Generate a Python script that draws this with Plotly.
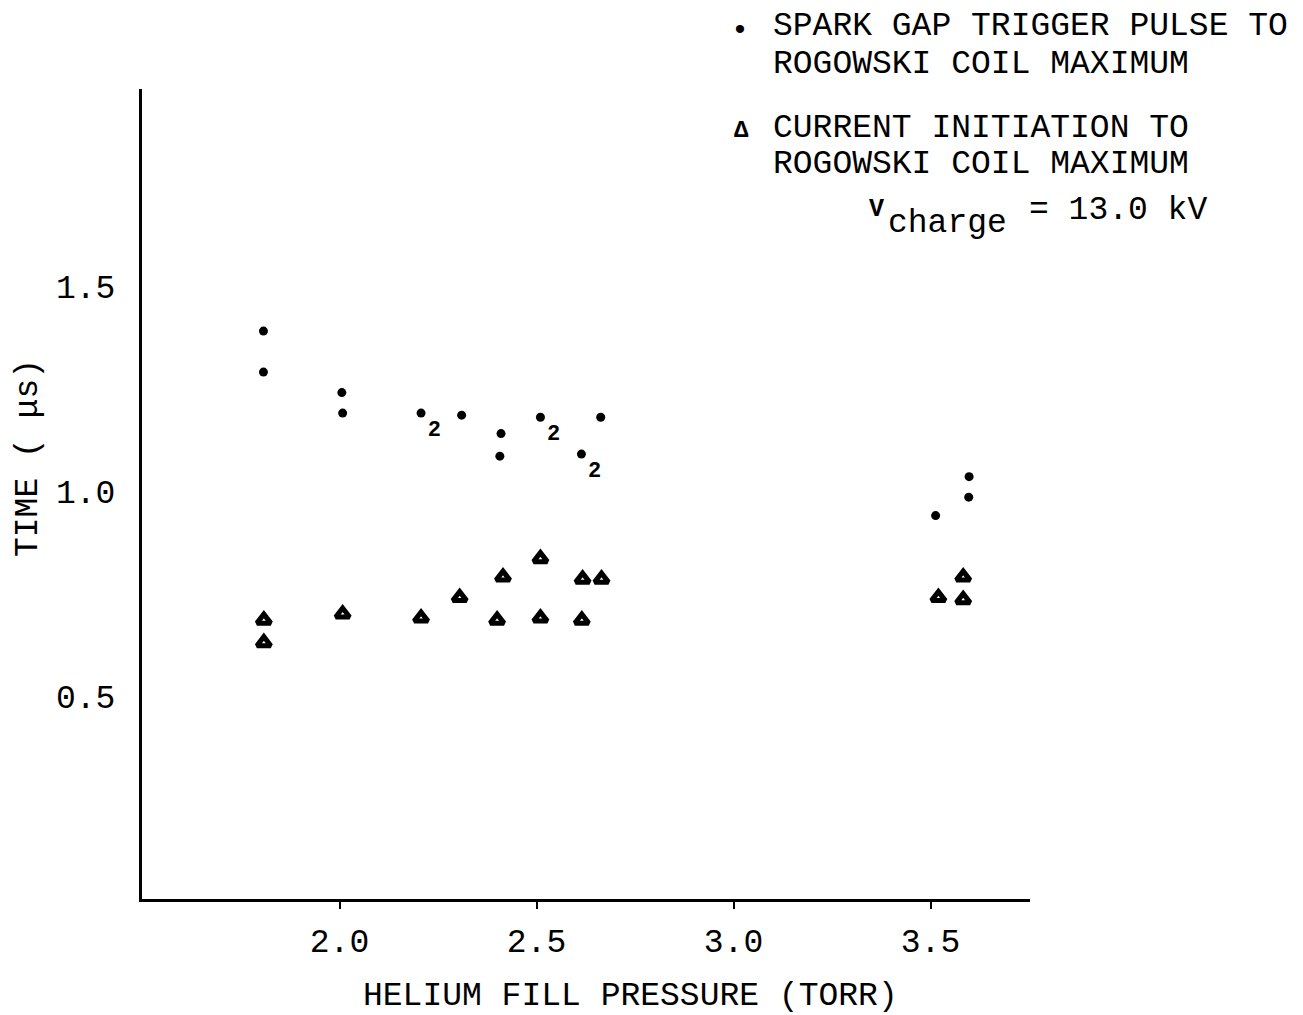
import plotly.graph_objects as go

# ---- data ----
spark_x = [1.807, 1.807, 2.006, 2.008, 2.207, 2.31, 2.41, 2.407, 2.51, 2.614, 2.663, 3.513, 3.598, 3.597]
spark_y = [1.39, 1.29, 1.24, 1.19, 1.19, 1.185, 1.14, 1.085, 1.18, 1.09, 1.18, 0.94, 1.035, 0.985]
spark_count = ["", "", "", "", "2", "", "", "", "2", "2", "", "", "", ""]

current_x = [1.808, 1.808, 2.008, 2.207, 2.305, 2.415, 2.40, 2.51, 2.51, 2.617, 2.615, 2.665, 3.52, 3.583, 3.583]
current_y = [0.685, 0.63, 0.70, 0.69, 0.74, 0.79, 0.685, 0.835, 0.69, 0.785, 0.685, 0.785, 0.74, 0.79, 0.735]

x_tick_vals = [2.0, 2.5, 3.0, 3.5]
x_tick_text = ["2.0", "2.5", "3.0", "3.5"]
y_tick_vals = [0.5, 1.0, 1.5]
y_tick_text = ["0.5", "1.0", "1.5"]

legend_spark = ["SPARK GAP TRIGGER PULSE TO", "ROGOWSKI COIL MAXIMUM"]
legend_current = ["CURRENT INITIATION TO", "ROGOWSKI COIL MAXIMUM"]

FONT = "Liberation Mono, Courier New, monospace"
FS = 33

# figure size (page body adds an 8px margin)
W, H = 1295, 1007
ML, MR, MT, MB = 134, 273, 81, 116
OFF = 8
PL, PR = OFF + ML, OFF + W - MR
PT, PB = OFF + MT, OFF + H - MB

fig = go.Figure()
fig.add_trace(go.Scatter(
    x=spark_x, y=spark_y, mode="markers+text",
    text=spark_count, textposition="bottom right",
    textfont=dict(family=FONT, size=22, color="black", weight="bold"),
    marker=dict(symbol="circle", size=9, color="black"),
    showlegend=False))
fig.add_trace(go.Scatter(
    x=current_x, y=current_y, mode="markers",
    marker=dict(symbol="triangle-up-open", size=12, color="black",
                line=dict(width=5, color="black")),
    showlegend=False))

def px(xs):
    return (xs - PL) / (PR - PL)
def py(ys):
    return (PB - ys) / (PB - PT)

ann = []
def add(text, x, y, xanchor="left", size=FS, angle=0):
    ann.append(dict(text=text, x=px(x), y=py(y), xref="paper", yref="paper",
                    xanchor=xanchor, yanchor="middle", showarrow=False,
                    textangle=angle,
                    font=dict(family=FONT, size=size, color="black")))

add("•", 740, 31, xanchor="center", size=30)
add(legend_spark[0], 771, 27)
add(legend_spark[1], 771, 64)
add("<b>Δ</b>", 741, 131, xanchor="center", size=24)
add(legend_current[0], 771, 128)
add(legend_current[1], 771, 165)
add("<b>V</b>", 876, 209, xanchor="center", size=25)
add("charge", 886, 224)
add("= 13.0 kV", 1027, 210)
add("HELIUM FILL PRESSURE (TORR)", 630, 996, xanchor="center")
add("TIME ( μs)", 28, 458, xanchor="center", angle=-90)

# axis ranges: 2.0 at x=339.5px, 394 px/unit; 1.0 at y=491px, 410 px/unit
x_range = [2.0 - (339.5 - PL) / 394.0, 2.0 + (PR - 339.5) / 394.0]
y_range = [1.0 - (PB - 491) / 410.0, 1.0 + (491 - PT) / 410.0]

fig.update_layout(
    width=W, height=H,
    margin=dict(l=ML, r=MR, t=MT, b=MB),
    paper_bgcolor="white", plot_bgcolor="white",
    font=dict(family=FONT, size=FS, color="black"),
    annotations=ann,
    xaxis=dict(range=x_range, showgrid=False, zeroline=False,
               showline=True, linecolor="black", linewidth=3, mirror=False,
               tickmode="array", tickvals=x_tick_vals, ticktext=x_tick_text,
               ticks="outside", ticklen=7, tickwidth=2, tickcolor="black",
               ticklabelstandoff=3,
               tickfont=dict(family=FONT, size=FS, color="black")),
    yaxis=dict(range=y_range, showgrid=False, zeroline=False,
               showline=True, linecolor="black", linewidth=3, mirror=False,
               tickmode="array", tickvals=y_tick_vals, ticktext=y_tick_text,
               ticks="", ticklabelstandoff=17,
               tickfont=dict(family=FONT, size=FS, color="black")),
)

fig.write_html("out.html")
